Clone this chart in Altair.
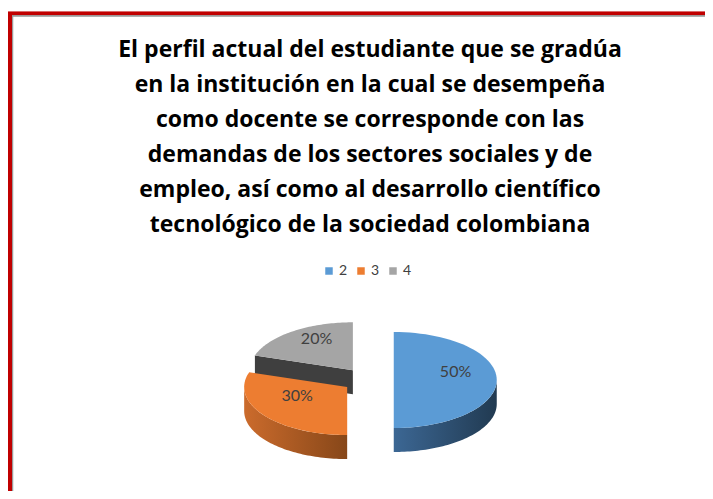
import altair as alt
import pandas as pd

# ---- data ----
categories = ["2", "3", "4"]
values = [50, 30, 20]
title_lines = [
    "El perfil actual del estudiante que se gradúa",
    "en la institución  en la cual se desempeña",
    "como docente se corresponde con las",
    "demandas de los sectores sociales y de",
    "empleo, así como al desarrollo científico",
    "tecnológico de la sociedad colombiana",
]

# ---- styles ----
top_colors = ["#5b9bd5", "#ed7d31", "#a5a5a5"]
side_grad = {
    "2": ("#3c6794", "#213a51"),
    "3": ("#cb6b2c", "#874719"),
}
W, H = 697, 483
CX, CY, RX, RY = 360, 372, 103, 48
EXP, DEPTH, N = 0.25, 24, 60

df = pd.DataFrame({"cat": categories, "value": values, "idx": list(range(len(categories)))})
base = alt.Chart(df)

xs = alt.Scale(domain=[0, W], nice=False, zero=False)
ys = alt.Scale(domain=[0, H], nice=False, zero=False, reverse=True)


def geom(ch):
    return (
        ch.transform_joinaggregate(total="sum(value)")
        .transform_window(cum="sum(value)", sort=[alt.SortField("idx")], frame=[None, 0])
        .transform_calculate(
            a0="2*PI*(datum.cum - datum.value)/datum.total",
            a1="2*PI*datum.cum/datum.total",
        )
        .transform_calculate(mid="(datum.a0 + datum.a1)/2")
        .transform_calculate(
            ox=f"{CX} + {RX}*{EXP}*sin(datum.mid)",
            oy=f"{CY} - {RY}*{EXP}*cos(datum.mid)",
        )
    )


def xy():
    return dict(
        x=alt.X("px:Q", scale=xs, axis=None),
        y=alt.Y("py:Q", scale=ys, axis=None),
        order=alt.Order("t:Q"),
    )


# top faces
top = (
    geom(base)
    .transform_calculate(t=f"sequence(-1, {N + 1})")
    .transform_flatten(["t"])
    .transform_calculate(
        ang=f"datum.a0 + (datum.a1 - datum.a0)*max(datum.t, 0)/{N}",
    )
    .transform_calculate(
        px=f"datum.t < 0 ? datum.ox : datum.ox + {RX}*sin(datum.ang)",
        py=f"datum.t < 0 ? datum.oy : datum.oy - {RY}*cos(datum.ang)",
    )
    .mark_line(filled=True, strokeWidth=0)
    .encode(
        color=alt.Color(
            "cat:N",
            scale=alt.Scale(domain=categories, range=top_colors),
            legend=alt.Legend(
                title=None,
                orient="none",
                direction="horizontal",
                legendX=314,
                legendY=256,
                symbolType="square",
                symbolSize=56,
                symbolStrokeWidth=0,
                labelFont="Lato",
                labelFontSize=14,
                labelColor="#404040",
                labelOffset=3,
                columnPadding=6,
            ),
        ),
        **xy(),
    )
)

# curved outer walls (front half only)
def side_layer(cat):
    c0, c1 = side_grad[cat]
    return (
        geom(base)
        .transform_calculate(s0="max(datum.a0, PI/2)", s1="min(datum.a1, 3*PI/2)")
        .transform_filter(f"datum.cat == '{cat}' && datum.s1 > datum.s0 + 1e-6")
        .transform_calculate(t=f"sequence(0, {2 * N + 2})")
        .transform_flatten(["t"])
        .transform_calculate(k=f"datum.t <= {N} ? datum.t : {2 * N + 1} - datum.t")
        .transform_calculate(ang=f"datum.s0 + (datum.s1 - datum.s0)*datum.k/{N}")
        .transform_calculate(
            px=f"datum.ox + {RX}*sin(datum.ang)",
            py=f"datum.oy - {RY}*cos(datum.ang) + (datum.t > {N} ? {DEPTH} : 0)",
        )
        .mark_line(
            filled=True,
            strokeWidth=0,
            fill=alt.LinearGradient(
                gradient="linear",
                x1=0, x2=1, y1=0, y2=0,
                stops=[alt.GradientStop(color=c0, offset=0), alt.GradientStop(color=c1, offset=1)],
            ),
        )
        .encode(**xy())
    )


# radial cut face visible toward viewer
face = (
    geom(base)
    .transform_filter("sin(datum.a0) < -1e-6")
    .transform_calculate(t="sequence(0, 4)")
    .transform_flatten(["t"])
    .transform_calculate(r="(datum.t == 1 || datum.t == 2) ? 1 : 0")
    .transform_calculate(
        px=f"datum.ox + {RX}*datum.r*sin(datum.a0)",
        py=f"datum.oy - {RY}*datum.r*cos(datum.a0) + (datum.t >= 2 ? {DEPTH} : 0)",
    )
    .mark_line(filled=True, strokeWidth=0, fill="#3f3f3f")
    .encode(**xy())
)

labels = (
    geom(base)
    .transform_calculate(
        px=f"datum.ox + {RX}*0.6*sin(datum.mid)",
        py=f"datum.oy - {RY}*0.6*cos(datum.mid) - 8",
        lab="format(datum.value/datum.total, '.0%')",
    )
    .mark_text(font="Lato", fontSize=16, color="#404040", baseline="middle", align="center")
    .encode(
        x=alt.X("px:Q", scale=xs, axis=None),
        y=alt.Y("py:Q", scale=ys, axis=None),
        text="lab:N",
    )
)

title_text = (
    alt.Chart(pd.DataFrame({"txt": [title_lines]}))
    .mark_text(
        font="Open Sans",
        fontSize=23,
        fontWeight="bold",
        color="#000000",
        align="center",
        baseline="alphabetic",
        lineHeight=35,
    )
    .encode(x=alt.value(362), y=alt.value(49), text="txt")
)

frame_top = base.mark_rule(color="#c00000", strokeWidth=3.5).encode(
    x=alt.value(0), x2=alt.value(W), y=alt.value(5.6)
)
frame_left = base.mark_rule(color="#c00000", strokeWidth=4.5).encode(
    x=alt.value(1.8), y=alt.value(4), y2=alt.value(H)
)
inner_top = base.mark_rule(color="#9a9a9a", strokeWidth=1).encode(
    x=alt.value(4), x2=alt.value(W), y=alt.value(7.9)
)
inner_left = base.mark_rule(color="#9a9a9a", strokeWidth=1).encode(
    x=alt.value(4.6), y=alt.value(7.9), y2=alt.value(H)
)

chart = (
    alt.layer(
        frame_top, frame_left, inner_top, inner_left,
        face, side_layer("2"), side_layer("3"), top, labels, title_text,
    )
    .properties(width=W, height=H, padding=0, autosize=alt.AutoSizeParams(type="none"))
    .configure_view(stroke=None)
)

chart.save("out.html", embed_options={"renderer": "svg", "actions": False})
